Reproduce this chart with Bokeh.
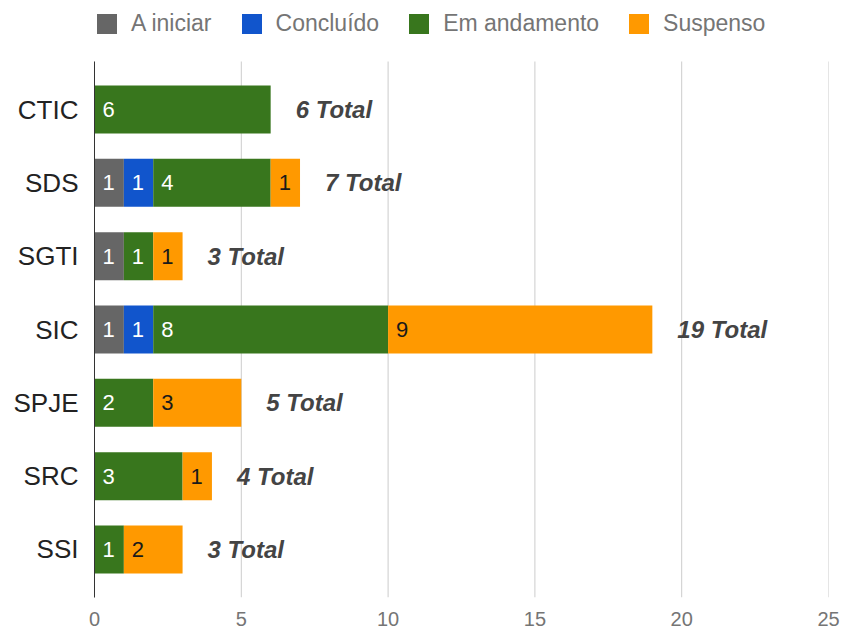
from bokeh.plotting import figure
from bokeh.models import Range1d, FixedTicker, Legend, LegendItem, ColumnDataSource
from bokeh.core.properties import value
from bokeh.embed import file_html
from bokeh.resources import INLINE

categories = ["CTIC", "SDS", "SGTI", "SIC", "SPJE", "SRC", "SSI"]
a_iniciar = [0, 1, 1, 1, 0, 0, 0]
concluido = [0, 1, 0, 1, 0, 0, 0]
em_andamento = [6, 4, 1, 8, 2, 3, 1]
suspenso = [0, 1, 1, 9, 3, 1, 2]
series_names = ["A iniciar", "Concluído", "Em andamento", "Suspenso"]
series_values = [a_iniciar, concluido, em_andamento, suspenso]
colors = ["#666666", "#1155cc", "#38761d", "#ff9900"]
label_colors = ["#ffffff", "#ffffff", "#ffffff", "#1a1a1a"]
x_ticks = [0, 5, 10, 15, 20, 25]

FONT = "Liberation Sans"
n = len(categories)
ys = list(range(n))
PAD = 0.655          # category padding above first / below last bar
TOP_EXTRA = 0.832    # room above the plot area for the legend

p = figure(width=844, height=628, output_backend="svg", toolbar_location=None,
           x_range=Range1d(0, 25),
           y_range=Range1d(n - 1 + PAD, -PAD - TOP_EXTRA),
           min_border_left=94, min_border_right=16, min_border_top=0, min_border_bottom=31)
p.outline_line_color = None
p.background_fill_color = "white"

# vertical grid lines, limited to the plot area
p.xgrid.grid_line_color = None
p.ygrid.grid_line_color = None
p.segment(x0=x_ticks, x1=x_ticks, y0=[-PAD] * len(x_ticks), y1=[n - 1 + PAD] * len(x_ticks),
          line_color="#cccccc", line_width=1)

left = [0] * n
renderers = []
seg_x, seg_y, seg_t, seg_c = [], [], [], []
for name, vals, col, lc in zip(series_names, series_values, colors, label_colors):
    right = [l + v for l, v in zip(left, vals)]
    src = ColumnDataSource(dict(y=ys, left=left, right=right))
    r = p.hbar(y="y", left="left", right="right", height=PAD, source=src,
               fill_color=col, line_color=None)
    renderers.append((name, r))
    for i, v in enumerate(vals):
        if v > 0:
            seg_x.append(left[i]); seg_y.append(i); seg_t.append(str(v)); seg_c.append(lc)
    left = right

totals = left
p.text(x=seg_x, y=seg_y, text=seg_t, text_color=seg_c, x_offset=8,
       text_align="left", text_baseline="middle", text_font=value(FONT), text_font_size="22px")
p.text(x=totals, y=ys, text=[f"{t} Total" for t in totals], x_offset=25,
       text_align="left", text_baseline="middle", text_font=value(FONT),
       text_font_size="24px", text_font_style="bold italic", text_color="#444444")

# axes
p.xaxis.ticker = FixedTicker(ticks=x_ticks)
p.xaxis.axis_line_color = None
p.xaxis.major_tick_line_color = None
p.xaxis.minor_tick_line_color = None
p.xaxis.major_label_text_font = FONT
p.xaxis.major_label_text_font_size = "20px"
p.xaxis.major_label_text_color = "#757575"
p.xaxis.major_label_standoff = 8

p.yaxis.ticker = FixedTicker(ticks=ys)
p.yaxis.bounds = (-PAD, n - 1 + PAD)
p.yaxis.major_label_overrides = {i: c for i, c in enumerate(categories)}
p.yaxis.axis_line_color = "#333333"
p.yaxis.axis_line_width = 1
p.yaxis.major_tick_line_color = None
p.yaxis.minor_tick_line_color = None
p.yaxis.major_label_text_font = FONT
p.yaxis.major_label_text_font_size = "26px"
p.yaxis.major_label_text_color = "#222222"
p.yaxis.major_label_standoff = 10

legend = Legend(items=[LegendItem(label=nm, renderers=[r]) for nm, r in renderers],
                orientation="horizontal", location=(0, 560),
                label_text_font=FONT, label_text_font_size="23px", label_text_color="#757575",
                glyph_width=25, glyph_height=25, label_standoff=12, spacing=27,
                padding=0, margin=0, border_line_color=None, background_fill_alpha=0)
p.add_layout(legend, "center")

open("out.html", "w").write(file_html(p, INLINE))
